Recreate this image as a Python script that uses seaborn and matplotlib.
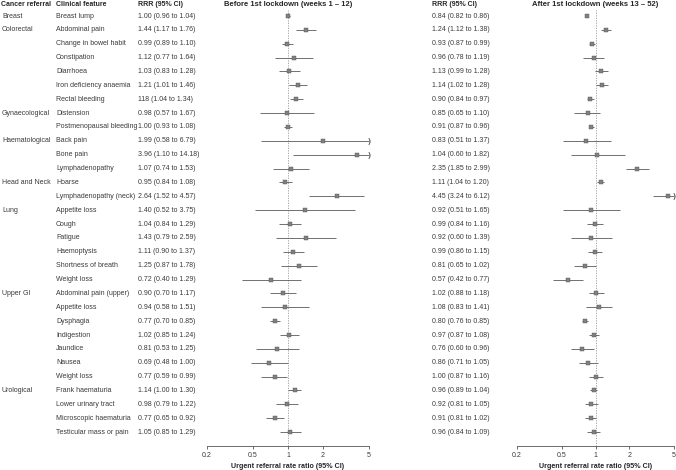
import pandas as pd
import numpy as np
import matplotlib
matplotlib.use("Agg")
import matplotlib.pyplot as plt
import matplotlib.transforms as mtransforms
import seaborn as sns

# Rows of the forest plot
groups = ["Breast", "Colorectal", "Gynaecological", "Haematological",
          "Head and Neck", "Lung", "Upper GI", "Urological"]
group_sizes = [1, 6, 2, 3, 2, 6, 7, 4]

features = ["Breast lump", "Abdominal pain", "Change in bowel habit", "Constipation",
            "Diarrhoea", "Iron deficiency anaemia", "Rectal bleeding", "Distension",
            "Postmenopausal bleeding", "Back pain", "Bone pain", "Lymphadenopathy",
            "Hoarse", "Lymphadenopathy (neck)", "Appetite loss", "Cough", "Fatigue",
            "Haemoptysis", "Shortness of breath", "Weight loss", "Abdominal pain (upper)",
            "Appetite loss", "Dysphagia", "Indigestion", "Jaundice", "Nausea",
            "Weight loss", "Frank haematuria", "Lower urinary tract",
            "Microscopic haematuria", "Testicular mass or pain"]

# Before 1st lockdown (weeks 1 - 12)
before_est = [1.00, 1.44, 0.99, 1.12, 1.03, 1.21, 1.18, 0.98, 1.00, 1.99, 3.96, 1.07,
              0.95, 2.64, 1.40, 1.04, 1.43, 1.11, 1.25, 0.72, 0.90, 0.94, 0.77, 1.02,
              0.81, 0.69, 0.77, 1.14, 0.98, 0.77, 1.05]
before_lo = [0.96, 1.17, 0.89, 0.77, 0.83, 1.01, 1.04, 0.57, 0.93, 0.58, 1.10, 0.74,
             0.84, 1.52, 0.52, 0.84, 0.79, 0.90, 0.87, 0.40, 0.70, 0.58, 0.70, 0.85,
             0.53, 0.48, 0.59, 1.00, 0.79, 0.65, 0.85]
before_hi = [1.04, 1.76, 1.10, 1.64, 1.28, 1.46, 1.34, 1.67, 1.08, 6.79, 14.18, 1.53,
             1.08, 4.57, 3.75, 1.29, 2.59, 1.37, 1.78, 1.29, 1.17, 1.51, 0.85, 1.24,
             1.25, 1.00, 0.99, 1.30, 1.22, 0.92, 1.29]

# After 1st lockdown (weeks 13 - 52)
after_est = [0.84, 1.24, 0.93, 0.96, 1.13, 1.14, 0.90, 0.85, 0.91, 0.83, 1.04, 2.35,
             1.11, 4.45, 0.92, 0.99, 0.92, 0.99, 0.81, 0.57, 1.02, 1.08, 0.80, 0.97,
             0.76, 0.86, 1.00, 0.96, 0.92, 0.91, 0.96]
after_lo = [0.82, 1.12, 0.87, 0.78, 0.99, 1.02, 0.84, 0.65, 0.87, 0.51, 0.60, 1.85,
            1.04, 3.24, 0.51, 0.84, 0.60, 0.86, 0.65, 0.42, 0.88, 0.83, 0.76, 0.87,
            0.60, 0.71, 0.87, 0.89, 0.81, 0.81, 0.84]
after_hi = [0.86, 1.38, 0.99, 1.19, 1.28, 1.28, 0.97, 1.10, 0.96, 1.37, 1.82, 2.99,
            1.20, 6.12, 1.65, 1.16, 1.39, 1.15, 1.02, 0.77, 1.18, 1.41, 0.85, 1.08,
            0.96, 1.05, 1.16, 1.04, 1.05, 1.02, 1.09]


def rrr_text(e, l, h):
    return [f"{a:.2f} ({b:.2f} to {c:.2f})" for a, b, c in zip(e, l, h)]


before_txt = rrr_text(before_est, before_lo, before_hi)
before_txt[6] = "118 (1.04 to 1.34)"  # as printed in the original
after_txt = rrr_text(after_est, after_lo, after_hi)

xmin, xmax = 0.2, 5
ticks = [0.2, 0.5, 1, 2, 5]

sns.set_style("white")
plt.rcParams["font.family"] = ["Liberation Sans", "DejaVu Sans"]
fs = 5.0
txt_col = "#3a3a3a"
grey = "#5a5a5a"

W, H = 676, 470
fig = plt.figure(figsize=(W / 100, H / 100), dpi=100)

n = len(features)
row_px0, row_step = 16, 13.87
axis_px = 446
ytop = -row_px0 / row_step
ybot = (axis_px - row_px0) / row_step
ax_bottom = (H - axis_px) / H
ax_height = axis_px / H

axL = fig.add_axes([207 / W, ax_bottom, 162 / W, ax_height])
axR = fig.add_axes([517 / W, ax_bottom, 157 / W, ax_height])


def forest(ax, est, lo, hi, title):
    df = pd.DataFrame({"row": np.arange(n), "est": est, "lo": lo, "hi": hi})
    df["hi_c"] = df["hi"].clip(upper=xmax)
    df["lo_c"] = df["lo"].clip(lower=xmin)
    ax.axvline(1, ymin=0, ymax=(ybot + 0.45) / (ybot - ytop), color="#999999",
               lw=0.6, ls=(0, (1.5, 1.5)), zorder=1)
    ax.hlines(df["row"], df["lo_c"], df["hi_c"], color=grey, lw=0.6, zorder=2)
    sns.scatterplot(data=df, x="est", y="row", marker="s", s=9, color="#808080",
                    edgecolor="#555555", linewidth=0.3, ax=ax, zorder=3, clip_on=False)
    clipped = df[df["hi"] > xmax]
    ax.scatter([xmax] * len(clipped), clipped["row"], marker="$)$", s=20,
               color=grey, linewidths=0.3, zorder=3, clip_on=False)
    ax.set_xscale("log")
    ax.set_xlim(xmin, xmax)
    ax.set_ylim(ybot, ytop)
    ax.set_xticks(ticks)
    ax.set_xticklabels([str(t) for t in ticks], fontsize=fs, color=txt_col)
    ax.xaxis.set_minor_locator(matplotlib.ticker.NullLocator())
    ax.tick_params(axis="x", direction="out", length=2.5, width=0.6, pad=2,
                   color="#555555", bottom=True)
    ax.set_yticks([])
    ax.set_ylabel("")
    ax.set_xlabel("Urgent referral rate ratio (95% CI)", fontsize=5.1,
                  fontweight="bold", labelpad=3)
    for s in ["top", "left", "right"]:
        ax.spines[s].set_visible(False)
    ax.spines["bottom"].set_linewidth(0.6)
    ax.spines["bottom"].set_color("#555555")
    ax.patch.set_alpha(0)
    ax.text(np.sqrt(xmin * xmax), ytop + 0.3, title, ha="center", va="center",
            fontsize=5.5, fontweight="bold", clip_on=False)


forest(axL, before_est, before_lo, before_hi, "Before 1st lockdown (weeks 1 \u2013 12)")
forest(axR, after_est, after_lo, after_hi, "After 1st lockdown (weeks 13 \u2013 52)")

# text columns
tr = mtransforms.blended_transform_factory(fig.transFigure, axL.transData)
hdr_y = ytop + 0.3
for x, t in [(1, "Cancer referral"), (56, "Clinical feature"), (138, "RRR (95% CI)"),
             (432, "RRR (95% CI)")]:
    fig.text(x / W, hdr_y, t, transform=tr, fontsize=5.0, fontweight="bold",
             va="center", ha="left")

start = 0
for g, size in zip(groups, group_sizes):
    fig.text(2 / W, start, g, transform=tr, fontsize=fs, va="center", color=txt_col)
    start += size

for i in range(n):
    fig.text(56 / W, i, features[i], transform=tr, fontsize=fs, va="center", color=txt_col)
    fig.text(138 / W, i, before_txt[i], transform=tr, fontsize=fs, va="center", color=txt_col)
    fig.text(432 / W, i, after_txt[i], transform=tr, fontsize=fs, va="center", color=txt_col)

fig.savefig("out.png", dpi=100)
